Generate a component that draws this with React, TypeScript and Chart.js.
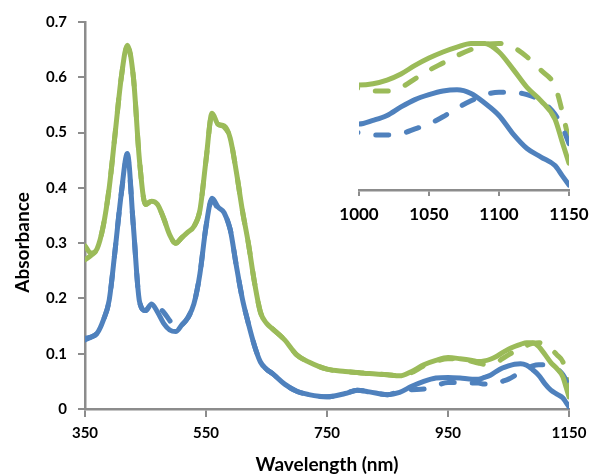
import React, { useEffect, useRef } from "react";
import { Chart, registerables } from "chart.js";

Chart.register(...registerables);

// ---- Data ----
const wavelengths = [
  350, 360, 370, 380, 390, 400, 410, 420, 430, 440, 450, 460, 470, 480, 490, 500,
  510, 520, 530, 540, 550, 560, 570, 580, 590, 600, 610, 620, 630, 640, 650, 660,
  680, 700, 720, 750, 780, 800, 820, 850, 870, 890, 910, 930, 950, 970, 990, 1000,
  1010, 1020, 1030, 1040, 1050, 1060, 1070, 1080, 1090, 1100, 1110, 1120, 1130,
  1140, 1145, 1150,
];

const greenSolid = [
  0.295, 0.282, 0.29, 0.33, 0.4, 0.5, 0.6, 0.658, 0.6, 0.45, 0.37, 0.376, 0.37, 0.345, 0.315, 0.3,
  0.31, 0.32, 0.33, 0.36, 0.45, 0.535, 0.515, 0.512, 0.49, 0.43, 0.36, 0.3, 0.23, 0.175, 0.155, 0.145,
  0.125, 0.098, 0.085, 0.072, 0.068, 0.066, 0.064, 0.062, 0.06, 0.068, 0.08, 0.088, 0.093, 0.091, 0.088, 0.086,
  0.087, 0.09, 0.095, 0.102, 0.108, 0.113, 0.117, 0.12, 0.12, 0.113, 0.099, 0.084, 0.073,
  0.058, 0.04, 0.022,
];

const greenDashed = [
  0.27, 0.278, 0.29, 0.33, 0.4, 0.5, 0.6, 0.655, 0.6, 0.45, 0.37, 0.376, 0.37, 0.345, 0.315, 0.3,
  0.31, 0.32, 0.33, 0.36, 0.45, 0.533, 0.515, 0.51, 0.49, 0.43, 0.36, 0.3, 0.23, 0.175, 0.155, 0.145,
  0.125, 0.098, 0.085, 0.072, 0.068, 0.066, 0.064, 0.062, 0.06, 0.066, 0.078, 0.086, 0.091, 0.09, 0.086, 0.083,
  0.081, 0.081, 0.084, 0.091, 0.098, 0.104, 0.11, 0.115, 0.119, 0.12, 0.117, 0.109, 0.098,
  0.085, 0.065, 0.04,
];

const blueSolid = [
  0.128, 0.13, 0.137, 0.16, 0.197, 0.29, 0.39, 0.462, 0.33, 0.195, 0.178, 0.19, 0.175, 0.155, 0.143, 0.14,
  0.152, 0.165, 0.19, 0.245, 0.33, 0.381, 0.365, 0.355, 0.325, 0.26, 0.2, 0.155, 0.115, 0.085, 0.072, 0.064,
  0.045, 0.032, 0.026, 0.022, 0.028, 0.034, 0.031, 0.026, 0.03, 0.041, 0.05, 0.056, 0.057, 0.056, 0.054, 0.054,
  0.057, 0.061, 0.068, 0.074, 0.078, 0.081, 0.082, 0.079, 0.071, 0.061, 0.046, 0.034, 0.027,
  0.02, 0.012, 0.004,
];

const blueDashed = [
  0.125, 0.13, 0.137, 0.16, 0.197, 0.29, 0.39, 0.455, 0.33, 0.195, 0.178, 0.19, 0.185, 0.175, 0.16, 0.145,
  0.152, 0.165, 0.19, 0.245, 0.33, 0.378, 0.362, 0.352, 0.325, 0.26, 0.2, 0.155, 0.115, 0.085, 0.072, 0.064,
  0.045, 0.032, 0.026, 0.022, 0.028, 0.034, 0.031, 0.026, 0.032, 0.035, 0.036, 0.042, 0.048, 0.048, 0.047, 0.047,
  0.045, 0.045, 0.046, 0.05, 0.054, 0.06, 0.067, 0.073, 0.078, 0.08, 0.08, 0.078, 0.073,
  0.062, 0.052, 0.038,
];

const mainXTicks = [350, 550, 750, 950, 1150];
const mainYTicks = [0, 0.1, 0.2, 0.3, 0.4, 0.5, 0.6, 0.7];
const insetXTicks = [1000, 1050, 1100, 1150];

const X_TITLE = "Wavelength (nm)";
const Y_TITLE = "Absorbance";

// ---- Styles ----
const GREEN = "#9BBB59";
const BLUE = "#4F81BD";
const AXIS = "#8C8C8C";
const FONT = "Lato";
const DASH = [13, 18];

const plainLabel = (v: any) => String(Math.round(Number(v) * 1000) / 1000);

function makeDatasets(lineWidth: number) {
  const pts = (ys: number[]) => wavelengths.map((x, i) => ({ x, y: ys[i] }));
  const base = {
    pointRadius: 0,
    borderWidth: lineWidth,
    fill: false,
    cubicInterpolationMode: "monotone" as const,
    borderJoinStyle: "round" as const,
    borderCapStyle: "round" as const,
  };
  return [
    { ...base, label: "Blue (solid)", data: pts(blueSolid), borderColor: BLUE },
    { ...base, label: "Green (solid)", data: pts(greenSolid), borderColor: GREEN },
    { ...base, label: "Blue (dashed)", data: pts(blueDashed), borderColor: BLUE, borderDash: DASH },
    { ...base, label: "Green (dashed)", data: pts(greenDashed), borderColor: GREEN, borderDash: DASH },
  ];
}

const yTitlePlugin = {
  id: "yTitleCustom",
  afterDraw(chart: any) {
    const { ctx, chartArea } = chart;
    ctx.save();
    ctx.font = `bold 19px ${FONT}`;
    ctx.fillStyle = "#000";
    ctx.textAlign = "center";
    ctx.textBaseline = "middle";
    ctx.translate(23, (chartArea.top + chartArea.bottom) / 2 + 27);
    ctx.rotate(-Math.PI / 2);
    ctx.fillText(Y_TITLE, 0, 0);
    ctx.restore();
  },
};

const fixX = (h: number) => (s: any) => {
  s.height = h;
  s.paddingLeft = 0;
  s.paddingRight = 0;
};

export default function App() {
  const mainRef = useRef<HTMLCanvasElement>(null);
  const insetRef = useRef<HTMLCanvasElement>(null);

  useEffect(() => {
    const tickFont = { family: FONT, size: 15, weight: "bold" as const };
    const main = new Chart(mainRef.current!, {
      type: "line",
      data: { datasets: makeDatasets(5) as any },
      plugins: [yTitlePlugin],
      options: {
        animation: false,
        responsive: false,
        devicePixelRatio: 1,
        layout: { padding: { left: 0, right: 20, top: 22, bottom: 0 } },
        plugins: { legend: { display: false }, tooltip: { enabled: false } },
        scales: {
          x: {
            type: "linear",
            min: 350,
            max: 1150,
            afterBuildTicks: (s: any) => {
              s.ticks = mainXTicks.map((v) => ({ value: v }));
            },
            afterFit: fixX(65),
            ticks: { font: tickFont, color: "#000", padding: 7, maxRotation: 0, autoSkip: false, callback: plainLabel },
            grid: { drawOnChartArea: false, drawTicks: true, tickLength: 8, color: AXIS, lineWidth: 2 },
            border: { color: AXIS, width: 2.5 },
            title: {
              display: true,
              text: X_TITLE,
              color: "#000",
              font: { family: FONT, size: 19, weight: "bold", lineHeight: 1.0 },
              padding: 0,
            },
          },
          y: {
            type: "linear",
            min: 0,
            max: 0.7,
            afterBuildTicks: (s: any) => {
              s.ticks = mainYTicks.map((v) => ({ value: v }));
            },
            afterFit: (s: any) => {
              s.width = 85;
              s.paddingTop = 0;
              s.paddingBottom = 0;
            },
            ticks: { font: tickFont, color: "#000", padding: 11, callback: plainLabel },
            grid: { drawOnChartArea: false, drawTicks: true, tickLength: 7, color: AXIS, lineWidth: 2 },
            border: { color: AXIS, width: 2.5 },
          },
        },
      },
    });

    const inset = new Chart(insetRef.current!, {
      type: "line",
      data: { datasets: makeDatasets(5) as any },
      options: {
        animation: false,
        responsive: false,
        devicePixelRatio: 1,
        layout: { padding: { left: 29, right: 20, top: 19, bottom: 0 } },
        plugins: { legend: { display: false }, tooltip: { enabled: false } },
        scales: {
          x: {
            type: "linear",
            min: 1000,
            max: 1150,
            afterBuildTicks: (s: any) => {
              s.ticks = insetXTicks.map((v) => ({ value: v }));
            },
            afterFit: fixX(50),
            ticks: {
              font: { family: FONT, size: 17, weight: "bold" },
              color: "#000",
              padding: 8,
              maxRotation: 0,
              autoSkip: false,
              callback: plainLabel,
            },
            grid: { drawOnChartArea: false, drawTicks: true, tickLength: 6, color: AXIS, lineWidth: 2 },
            border: { color: AXIS, width: 2.5 },
          },
          y: { display: false, min: 0, max: 0.14 },
        },
      },
    });

    return () => {
      main.destroy();
      inset.destroy();
    };
  }, []);

  return (
    <div style={{ position: "fixed", left: 0, top: 0, width: 589, height: 474, background: "#fff" }}>
      <canvas ref={mainRef} width={589} height={474} style={{ position: "absolute", left: 0, top: 0 }} />
      <canvas ref={insetRef} width={259} height={240} style={{ position: "absolute", left: 330, top: 0 }} />
    </div>
  );
}
